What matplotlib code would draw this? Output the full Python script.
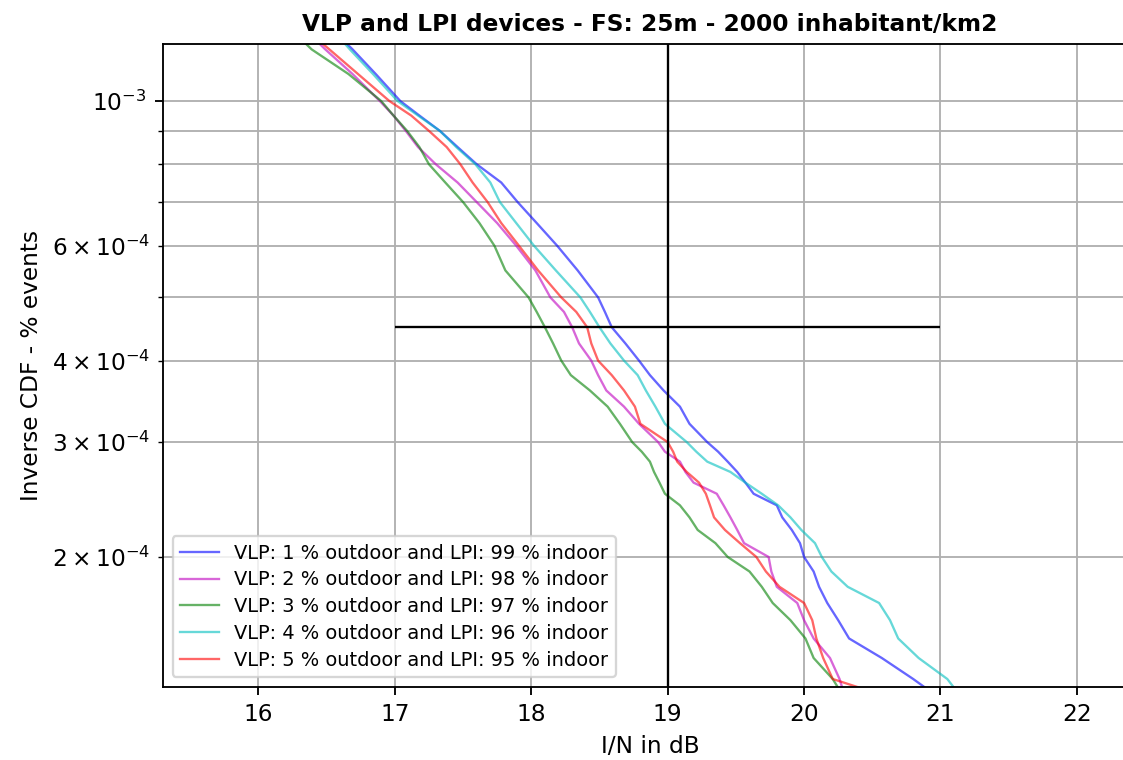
import matplotlib.pyplot as plt

# inverse CDF levels (fraction of events) shared by all five curves
inv_cdf = [1.24e-3, 1.2e-3, 1.1e-3, 1.0e-3, 9.5e-4, 9e-4, 8.5e-4, 8e-4, 7.5e-4,
           7e-4, 6.5e-4, 6e-4, 5.5e-4, 5e-4, 4.75e-4, 4.5e-4, 4.25e-4, 4e-4,
           3.8e-4, 3.6e-4, 3.4e-4, 3.2e-4, 3e-4, 2.9e-4, 2.8e-4, 2.7e-4,
           2.6e-4, 2.5e-4, 2.4e-4, 2.3e-4, 2.2e-4, 2.1e-4, 2e-4, 1.9e-4,
           1.8e-4, 1.7e-4, 1.6e-4, 1.5e-4, 1.4e-4, 1.3e-4, 1.26e-4]

# I/N (dB) reached at each level, one list per VLP/LPI mix
in_vlp1 = [16.62, 16.69, 16.86, 17.04, 17.18, 17.33, 17.46, 17.60, 17.78, 17.90,
           18.04, 18.19, 18.34, 18.49, 18.54, 18.59, 18.69, 18.79, 18.87, 18.97,
           19.09, 19.16, 19.29, 19.37, 19.44, 19.51, 19.57, 19.63, 19.80, 19.84,
           19.91, 19.97, 20.00, 20.07, 20.11, 20.17, 20.25, 20.33, 20.57, 20.80,
           20.89]
in_vlp2 = [16.42, 16.49, 16.69, 16.89, 16.99, 17.08, 17.17, 17.30, 17.46, 17.60,
           17.75, 17.89, 18.03, 18.14, 18.24, 18.30, 18.35, 18.44, 18.49, 18.55,
           18.68, 18.79, 18.93, 18.98, 19.09, 19.13, 19.19, 19.36, 19.41, 19.46,
           19.51, 19.56, 19.74, 19.76, 19.80, 19.95, 20.00, 20.07, 20.19, 20.26,
           20.28]
in_vlp3 = [16.32, 16.39, 16.66, 16.90, 16.99, 17.09, 17.18, 17.25, 17.37, 17.50,
           17.62, 17.73, 17.81, 17.98, 18.04, 18.10, 18.16, 18.22, 18.29, 18.43,
           18.56, 18.65, 18.74, 18.81, 18.87, 18.90, 18.94, 18.98, 19.09, 19.16,
           19.22, 19.35, 19.44, 19.60, 19.69, 19.77, 19.90, 20.01, 20.07, 20.21,
           20.25]
in_vlp4 = [16.61, 16.67, 16.84, 17.02, 17.17, 17.33, 17.45, 17.59, 17.70, 17.77,
           17.89, 18.02, 18.18, 18.36, 18.43, 18.50, 18.58, 18.68, 18.78, 18.84,
           18.91, 18.98, 19.14, 19.21, 19.29, 19.46, 19.57, 19.69, 19.81, 19.90,
           19.98, 20.08, 20.13, 20.20, 20.32, 20.55, 20.63, 20.69, 20.84, 21.05,
           21.10]
in_vlp5 = [16.44, 16.52, 16.73, 16.96, 17.12, 17.25, 17.38, 17.48, 17.57, 17.68,
           17.78, 17.91, 18.05, 18.22, 18.33, 18.41, 18.44, 18.49, 18.59, 18.68,
           18.76, 18.80, 19.00, 19.04, 19.07, 19.14, 19.23, 19.28, 19.31, 19.34,
           19.42, 19.53, 19.65, 19.72, 19.82, 20.00, 20.06, 20.09, 20.14, 20.21,
           20.41]

outdoor_pct = [1, 2, 3, 4, 5]
indoor_pct = [99, 98, 97, 96, 95]
colors = ['b', 'm', 'g', 'c', 'r']

# protection criterion
threshold_db = 19
criterion_level = 4.5e-4
criterion_span = [17, 21]


def plot_cdfs() -> None:
    fig = plt.figure(figsize=(1123 / 167, 760 / 167), dpi=167)
    # axes runs a little past the right edge, like the cropped original
    ax = fig.add_axes([0.1451, 0.0961, 0.8673, 0.8454])

    series = [in_vlp1, in_vlp2, in_vlp3, in_vlp4, in_vlp5]
    for xs, out, ind, col in zip(series, outdoor_pct, indoor_pct, colors):
        ax.plot(xs, inv_cdf, color=col, lw=1, alpha=0.6,
                label=f'VLP: {out} % outdoor and LPI: {ind} % indoor')

    ax.axvline(threshold_db, color='k', lw=1)
    ax.hlines(criterion_level, criterion_span[0], criterion_span[1], color='k', lw=1)

    ax.set_yscale('log')
    ax.set_xlim(15.3, 22.44)
    ax.set_ylim(1.264e-4, 1.221e-3)
    ax.grid(True, which='both')

    ax.set_xlabel('I/N in dB')
    ax.set_ylabel('Inverse CDF - % events')
    ax.set_title('VLP and LPI devices - FS: 25m - 2000 inhabitant/km2',
                 fontsize=10, fontweight='bold')
    ax.legend(loc='lower left', fontsize='small', labelspacing=0.4)

    fig.savefig('out.png', dpi=167)


plot_cdfs()
